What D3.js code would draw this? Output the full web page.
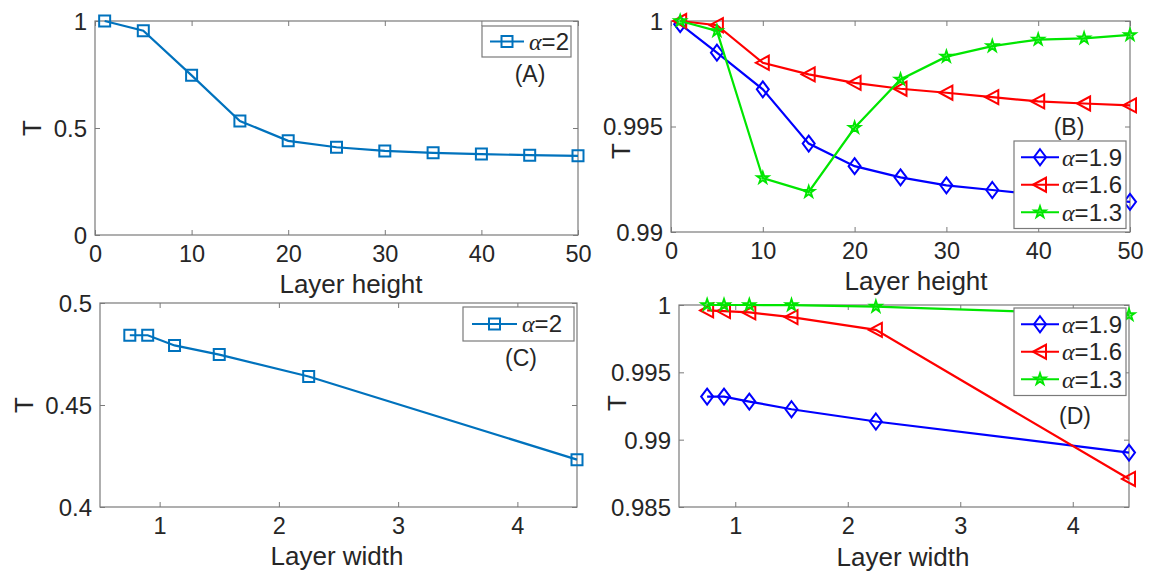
<!DOCTYPE html>
<html>
<head>
<meta charset="utf-8">
<script src="https://cdn.jsdelivr.net/npm/d3@7"></script>
<style>
	body { margin: 0; background: #fff; }
	svg { display: block; }
	text { font-family: "Liberation Sans", Arial, sans-serif; fill: #262626; }
</style>
</head>
<body>
<div id="container"></div>
<script>
// layer height sweep (panels A, B)
const heights = [1, 5, 10, 15, 20, 25, 30, 35, 40, 45, 50];
const tHeightA2 = [1.0, 0.955, 0.746, 0.533, 0.44, 0.41, 0.393, 0.384, 0.378, 0.373, 0.37];
const tHeight19 = [0.99985, 0.9985, 0.99676, 0.99419, 0.99312, 0.99259, 0.99221, 0.99199, 0.99176, 0.99158, 0.99143];
const tHeight16 = [1.0, 0.9998, 0.99802, 0.99747, 0.99707, 0.99679, 0.9966, 0.99639, 0.99619, 0.99609, 0.996];
const tHeight13 = [1.0, 0.99953, 0.99256, 0.9919, 0.99494, 0.99723, 0.99831, 0.99881, 0.99912, 0.99918, 0.99934];

// layer width sweep (panels C, D)
const widths = [0.75, 0.9, 1.125, 1.5, 2.25, 4.5];
const tWidthA2 = [0.4842, 0.4842, 0.4792, 0.4747, 0.464, 0.4232];
const tWidth19 = [0.9932, 0.9932, 0.99283, 0.99226, 0.99135, 0.98904];
const tWidth16 = [0.9996, 0.99955, 0.99945, 0.9991, 0.99815, 0.98708];
const tWidth13 = [1.0, 1.0, 1.0, 0.99999, 0.99988, 0.99926];

const heightTicks = ["0", "10", "20", "30", "40", "50"];
const widthTicks = ["1", "2", "3", "4"];
const yTicksA = ["0", "0.5", "1"];
const yTicksB = ["0.99", "0.995", "1"];
const yTicksC = ["0.4", "0.45", "0.5"];
const yTicksD = ["0.985", "0.99", "0.995", "1"];

const W = 1157, H = 574;

const panels = [
	{
		tag: "(A)", box: { l: 95, r: 578, t: 21, b: 235 },
		xDomain: [0, 50], yDomain: [0, 1], xTicks: heightTicks, yTicks: yTicksA,
		xLabel: "Layer height", xLabelPos: [351, 293], yLabelPos: [32, 128],
		x: heights,
		series: [{ name: "2", values: tHeightA2, color: "#0072BD", marker: "square" }],
		legend: { x: 482, y: 26, w: 89, rowH: 26, l1: 8, l2: 42, tx: 47 },
		tagPos: [530, 82]
	},
	{
		tag: "(B)", box: { l: 671, r: 1130, t: 21, b: 232 },
		xDomain: [0, 50], yDomain: [0.99, 1], xTicks: heightTicks, yTicks: yTicksB,
		xLabel: "Layer height", xLabelPos: [916, 290], yLabelPos: [621, 151],
		x: heights,
		series: [
			{ name: "1.9", values: tHeight19, color: "#0000FF", marker: "diamond" },
			{ name: "1.6", values: tHeight16, color: "#FF0000", marker: "triangle" },
			{ name: "1.3", values: tHeight13, color: "#00E600", marker: "star" }
		],
		legend: { x: 1014, y: 141, w: 112, rowH: 27.5, l1: 7, l2: 45, tx: 48 },
		tagPos: [1069, 135]
	},
	{
		tag: "(C)", box: { l: 100, r: 577, t: 303, b: 507 },
		xDomain: [0.5, 4.5], yDomain: [0.4, 0.5], xTicks: widthTicks, yTicks: yTicksC,
		xLabel: "Layer width", xLabelPos: [337, 565], yLabelPos: [24, 405],
		x: widths,
		series: [{ name: "2", values: tWidthA2, color: "#0072BD", marker: "square" }],
		legend: { x: 463, y: 307, w: 111, rowH: 29, l1: 9, l2: 54, tx: 59 },
		tagPos: [521, 366]
	},
	{
		tag: "(D)", box: { l: 679, r: 1129, t: 305, b: 507 },
		xDomain: [0.5, 4.5], yDomain: [0.985, 1], xTicks: widthTicks, yTicks: yTicksD,
		xLabel: "Layer width", xLabelPos: [903, 566], yLabelPos: [617, 403],
		x: widths,
		series: [
			{ name: "1.9", values: tWidth19, color: "#0000FF", marker: "diamond" },
			{ name: "1.6", values: tWidth16, color: "#FF0000", marker: "triangle" },
			{ name: "1.3", values: tWidth13, color: "#00E600", marker: "star" }
		],
		legend: { x: 1014, y: 308, w: 112, rowH: 27.5, l1: 7, l2: 45, tx: 48 },
		tagPos: [1075, 424]
	}
];

const svg = d3.select("#container").append("svg")
	.attr("width", W)
	.attr("height", H);

function markerPath(kind) {
	if (kind === "square") return "M-5.5,-5.5H5.5V5.5H-5.5Z";
	if (kind === "diamond") return "M0,-8L6,0L0,8L-6,0Z";
	if (kind === "triangle") return "M-7,0L6,-7L6,7Z";
	return d3.symbol(d3.symbolStar, 42)();
}

function drawMarker(g, kind, color) {
	g.append("path")
		.attr("d", markerPath(kind))
		.attr("fill", kind === "star" ? color : "none")
		.attr("fill-opacity", kind === "star" ? 0.4 : 1)
		.attr("stroke", color)
		.attr("stroke-width", kind === "star" ? 1.8 : 2);
}

panels.forEach(p => {
	const { l, r, t, b } = p.box;
	const xScale = d3.scaleLinear().domain(p.xDomain).range([l, r]);
	const yScale = d3.scaleLinear().domain(p.yDomain).range([b, t]);
	const g = svg.append("g");

	// box
	g.append("rect")
		.attr("x", l).attr("y", t)
		.attr("width", r - l).attr("height", b - t)
		.attr("fill", "none").attr("stroke", "#7a7a7a").attr("stroke-width", 1.2);

	const xVals = p.xTicks.map(Number);
	const yVals = p.yTicks.map(Number);

	const xAxis = d3.axisBottom(xScale).tickValues(xVals)
		.tickFormat((d, i) => p.xTicks[i])
		.tickSizeInner(-5).tickSizeOuter(0).tickPadding(10);
	const yAxis = d3.axisLeft(yScale).tickValues(yVals)
		.tickFormat((d, i) => p.yTicks[i])
		.tickSizeInner(-5).tickSizeOuter(0).tickPadding(8);

	const gx = g.append("g").attr("transform", `translate(0,${b})`).call(xAxis);
	const gy = g.append("g").attr("transform", `translate(${l},0)`).call(yAxis);
	g.append("g").attr("transform", `translate(0,${t})`)
		.call(d3.axisTop(xScale).tickValues(xVals).tickSizeInner(-5).tickSizeOuter(0).tickFormat(""));
	g.append("g").attr("transform", `translate(${r},0)`)
		.call(d3.axisRight(yScale).tickValues(yVals).tickSizeInner(-5).tickSizeOuter(0).tickFormat(""));

	g.selectAll(".domain").remove();
	g.selectAll(".tick line").attr("stroke", "#7a7a7a");
	gx.selectAll(".tick text").attr("font-size", 23.5).attr("fill", "#262626")
		.attr("font-family", "Liberation Sans, Arial, sans-serif");
	gy.selectAll(".tick text").attr("font-size", 24).attr("fill", "#262626")
		.attr("font-family", "Liberation Sans, Arial, sans-serif")
		.attr("dy", "0.35em");

	// labels
	g.append("text")
		.attr("x", p.xLabelPos[0]).attr("y", p.xLabelPos[1])
		.attr("text-anchor", "middle").attr("font-size", 26)
		.text(p.xLabel);
	g.append("text")
		.attr("transform", `translate(${p.yLabelPos[0]},${p.yLabelPos[1]}) rotate(-90)`)
		.attr("text-anchor", "middle").attr("dy", "0.35em").attr("font-size", 26)
		.text("T");

	// lines + markers
	const clipId = "clip" + p.tag.replace(/\W/g, "");
	g.append("clipPath").attr("id", clipId)
		.append("rect").attr("x", l - 12).attr("y", t - 12)
		.attr("width", r - l + 24).attr("height", b - t + 24);

	const plot = g.append("g").attr("clip-path", `url(#${clipId})`);
	p.series.forEach(s => {
		const pts = p.x.map((xv, i) => [xScale(xv), yScale(s.values[i])]);
		plot.append("path")
			.attr("d", d3.line()(pts))
			.attr("fill", "none")
			.attr("stroke", s.color)
			.attr("stroke-width", 2.2);
		pts.forEach(pt => {
			const m = plot.append("g").attr("transform", `translate(${pt[0]},${pt[1]})`);
			drawMarker(m, s.marker, s.color);
		});
	});

	// legend
	const lg = p.legend;
	const lgH = lg.rowH * p.series.length + 5;
	const leg = g.append("g");
	leg.append("rect")
		.attr("x", lg.x).attr("y", lg.y)
		.attr("width", lg.w).attr("height", lgH)
		.attr("fill", "#fff").attr("stroke", "#7a7a7a").attr("stroke-width", 1.2);
	p.series.forEach((s, i) => {
		const cy = lg.y + 2.5 + lg.rowH * (i + 0.5);
		leg.append("line")
			.attr("x1", lg.x + lg.l1).attr("x2", lg.x + lg.l2)
			.attr("y1", cy).attr("y2", cy)
			.attr("stroke", s.color).attr("stroke-width", 2.2);
		const m = leg.append("g").attr("transform", `translate(${lg.x + (lg.l1 + lg.l2) / 2},${cy})`);
		drawMarker(m, s.marker, s.color);
		const tx = leg.append("text")
			.attr("x", lg.x + lg.tx).attr("y", cy)
			.attr("dy", "0.35em").attr("font-size", 24);
		tx.append("tspan")
			.attr("font-family", "Liberation Serif, Times New Roman, serif")
			.attr("font-style", "italic").text("α");
		tx.append("tspan").text("=" + s.name);
	});

	g.append("text")
		.attr("x", p.tagPos[0]).attr("y", p.tagPos[1])
		.attr("text-anchor", "middle").attr("font-size", 23)
		.text(p.tag);
});
</script>
</body>
</html>
